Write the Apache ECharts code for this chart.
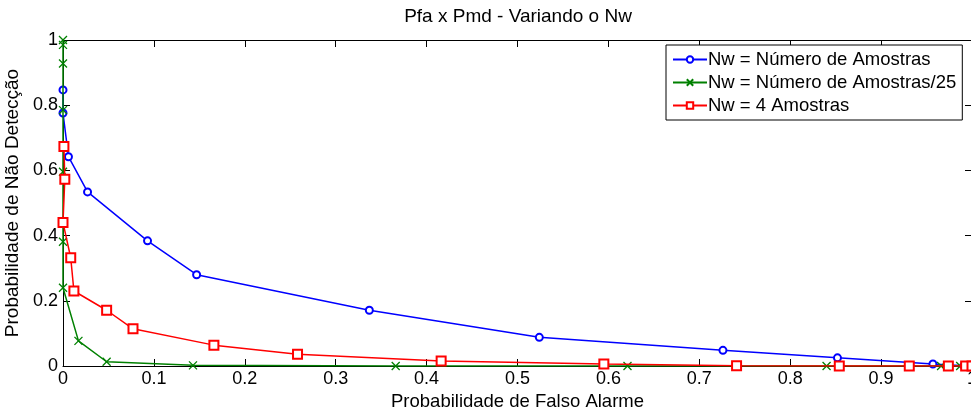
<!DOCTYPE html>
<html>
<head>
<meta charset="utf-8">
<script src="https://cdn.jsdelivr.net/npm/echarts@6/dist/echarts.min.js"></script>
<style>html,body{margin:0;padding:0;background:#fff}#c{width:971px;height:410px}</style>
</head>
<body>
<div id="c"></div>
<script>
// Data (x = Pfa, y = Pmd)
const blueX = [0, 0, 0.006, 0.027, 0.093, 0.147, 0.337, 0.524, 0.726, 0.852, 0.957, 0.991, 1];
const blueY = [0.847, 0.776, 0.642, 0.534, 0.384, 0.28, 0.171, 0.088, 0.048, 0.025, 0.006, 0.001, 0];
const greenX = [0, 0, 0, 0, 0, 0, 0, 0.017, 0.048, 0.143, 0.366, 0.621, 0.84, 0.966, 0.987, 1];
const greenY = [1, 0.985, 0.928, 0.785, 0.596, 0.381, 0.24, 0.077, 0.013, 0.002, 0, 0, 0, 0, 0, 0];
const redX = [0.001, 0.002, 0, 0.0085, 0.012, 0.048, 0.077, 0.166, 0.258, 0.416, 0.595, 0.741, 0.854, 0.931, 0.974, 0.993, 1];
const redY = [0.673, 0.573, 0.44, 0.332, 0.23, 0.171, 0.114, 0.064, 0.036, 0.015, 0.006, 0.001, 0, 0, 0, 0, 0];
const seriesNames = ['Nw = Número de Amostras', 'Nw = Número de Amostras/25', 'Nw = 4 Amostras'];
const xTicks = [0, 0.1, 0.2, 0.3, 0.4, 0.5, 0.6, 0.7, 0.8, 0.9, 1];
const yTicks = [0, 0.2, 0.4, 0.6, 0.8, 1];
const titleText = 'Pfa x Pmd - Variando o Nw';
const xName = 'Probabilidade de Falso Alarme';
const yName = 'Probabilidade de Não Detecção';

const pairs = (xs, ys) => xs.map((x, i) => [x, ys[i]]);
const font = 'Liberation Sans, Arial, sans-serif';
const xMark = 'path://M0,0L10,10M10,0L0,10';

const chart = echarts.init(document.getElementById('c'), null, {renderer: 'canvas'});
const axisCommon = {
  min: 0, max: 1,
  axisLine: {show: true, onZero: false, lineStyle: {color: '#000', width: 1}},
  axisTick: {show: true, inside: true, length: 7, lineStyle: {color: '#000'}},
  splitLine: {show: false}
};
chart.setOption({
  animation: false,
  backgroundColor: '#fff',
  title: {
    text: titleText, left: 513, textAlign: 'center', top: 2,
    textStyle: {fontFamily: font, fontSize: 19, fontWeight: 'normal', color: '#000'}
  },
  grid: {left: 63, top: 40, width: 909, height: 326, containLabel: false, outerBoundsMode: 'none'},
  legend: {
    orient: 'vertical', left: 666, top: 45,
    backgroundColor: '#fff', borderColor: '#000', borderWidth: 1, borderRadius: 0,
    padding: [5, 6, 5, 6], itemGap: 4, itemWidth: 34, itemHeight: 8,
    textStyle: {fontFamily: font, fontSize: 18.5, color: '#000', padding: [0, 0, 0, -4]},
    data: seriesNames
  },
  xAxis: [
    Object.assign({}, axisCommon, {
      type: 'value', position: 'bottom', interval: 0.1,
      name: xName, nameLocation: 'middle', nameGap: 23,
      nameTextStyle: {fontFamily: font, fontSize: 18.5, color: '#000'},
      axisLabel: {fontFamily: font, fontSize: 18, color: '#000', margin: 4,
        customValues: xTicks}
    }),
    Object.assign({}, axisCommon, {
      type: 'value', position: 'top', interval: 0.1, axisLabel: {show: false}
    })
  ],
  yAxis: [
    Object.assign({}, axisCommon, {
      type: 'value', position: 'left', interval: 0.2,
      name: yName, nameLocation: 'middle', nameGap: 38,
      nameTextStyle: {fontFamily: font, fontSize: 19, color: '#000'},
      axisLabel: {fontFamily: font, fontSize: 18, color: '#000', margin: 5,
        customValues: yTicks}
    }),
    Object.assign({}, axisCommon, {
      type: 'value', position: 'right', interval: 0.2, axisLabel: {show: false}
    })
  ],
  series: [
    {
      name: seriesNames[0], type: 'line', data: pairs(blueX, blueY),
      symbol: 'emptyCircle', symbolSize: 7, showAllSymbol: true,
      lineStyle: {color: '#0000ff', width: 1.5},
      itemStyle: {color: '#0000ff', borderWidth: 1.3}, z: 3
    },
    {
      name: seriesNames[1], type: 'line', data: pairs(greenX, greenY),
      symbol: xMark, symbolSize: 8, showAllSymbol: true,
      lineStyle: {color: '#008000', width: 1.5},
      itemStyle: {color: '#008000', borderColor: '#008000', borderWidth: 1.3}, z: 4
    },
    {
      name: seriesNames[2], type: 'line', data: pairs(redX, redY),
      symbol: 'emptyRect', symbolSize: 9, showAllSymbol: true,
      lineStyle: {color: '#ff0000', width: 1.5},
      itemStyle: {color: '#ff0000', borderWidth: 1.3}, z: 5
    }
  ]
});
</script>
</body>
</html>
